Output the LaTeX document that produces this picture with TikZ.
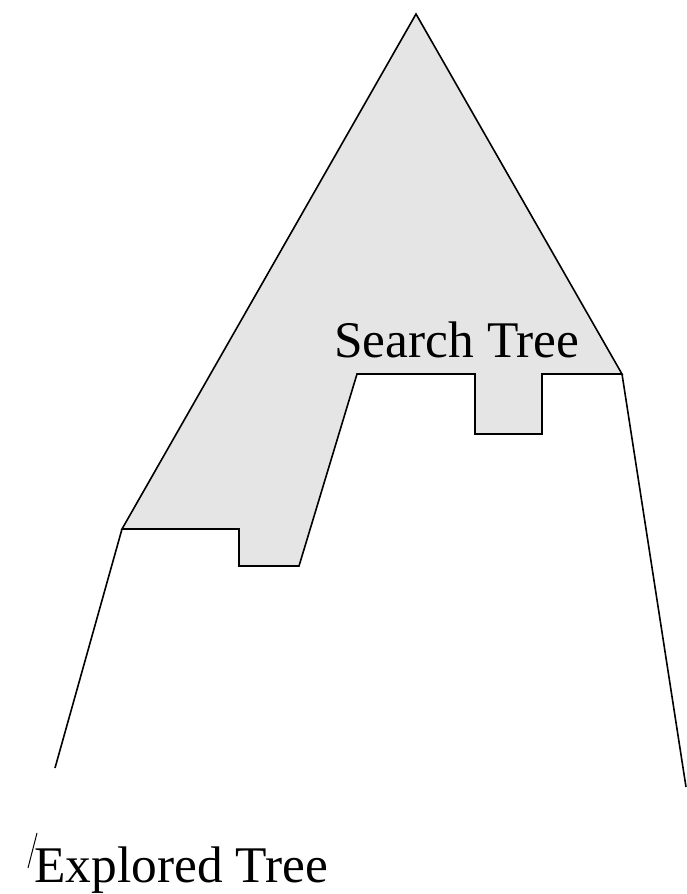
\documentclass[tikz,border=0pt]{standalone}
\usepackage{fontspec}
\setmainfont{Liberation Serif}
\begin{document}
\begin{tikzpicture}[x=0.5pt, y=-0.5pt, every node/.style={font=\fontsize{25.7}{30}\selectfont, inner sep=0pt}]
  \useasboundingbox (0,0) rectangle (686,894);
  % outline of the search tree, with the notched lower edge
  \coordinate (Top)   at (416,14);
  \coordinate (R)     at (622,374);
  \coordinate (Ra)    at (542,374);
  \coordinate (Rb)    at (542,434);
  \coordinate (Rc)    at (475,434);
  \coordinate (Rd)    at (475,374);
  \coordinate (M)     at (357,374);
  \coordinate (Mb)    at (299,566);
  \coordinate (La)    at (239,566);
  \coordinate (Lb)    at (239,529);
  \coordinate (L)     at (122,529);
  % feet of the explored tree
  \coordinate (Lfoot) at (55,768);
  \coordinate (Rfoot) at (686,787);
  \filldraw[fill=gray!20, line width=0.8pt]
    (Top)--(R)--(Ra)--(Rb)--(Rc)--(Rd)--(M)--(Mb)--(La)--(Lb)--(L)--cycle;
  \draw[line width=0.8pt] (L)--(Lfoot);
  \draw[line width=0.8pt] (R)--(Rfoot);
  \node[anchor=base west] (search) at (334,357) {Search Tree};
  \node[anchor=base west] (explored) at (34,882) {Explored Tree};
  \coordinate (TickA) at (28,868);
  \coordinate (TickB) at (37,833);
  \draw[line width=0.5pt] (TickA)--(TickB);
\end{tikzpicture}
\end{document}
